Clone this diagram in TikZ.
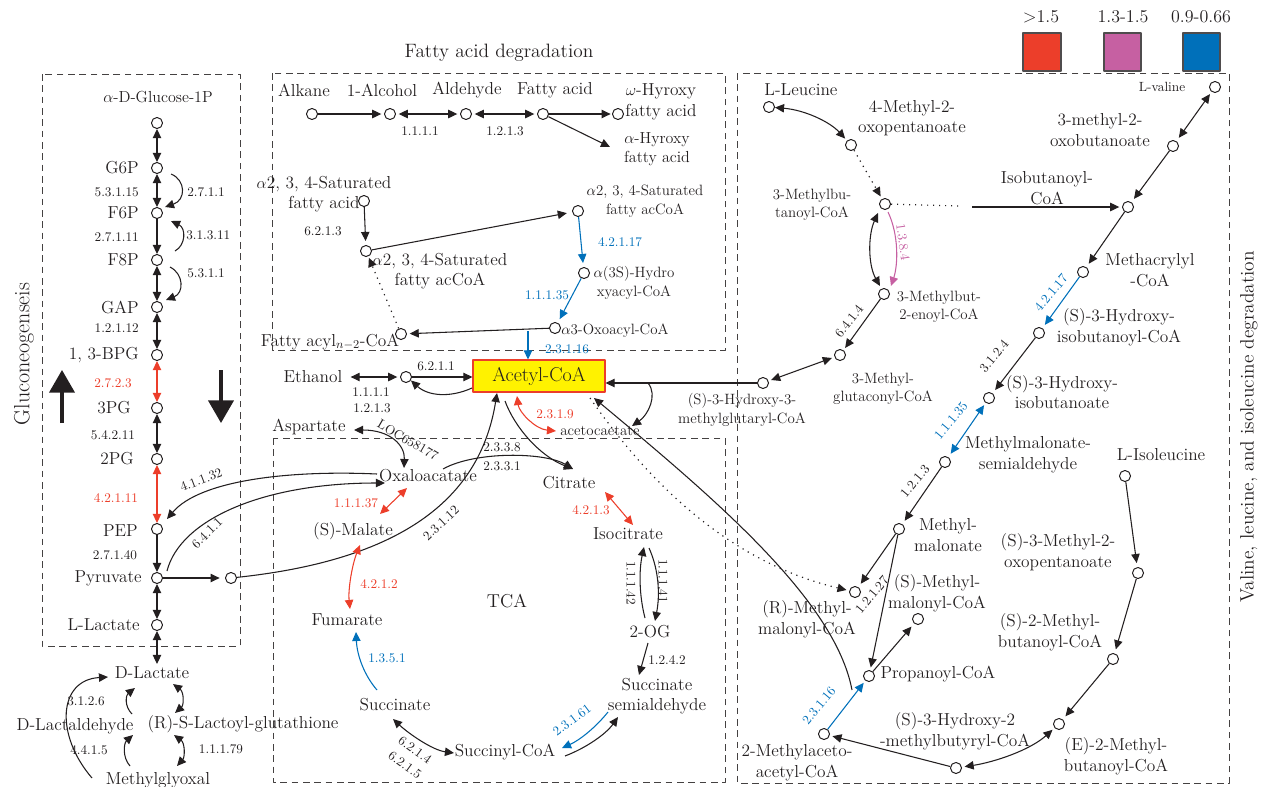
\documentclass[tikz,border=0pt]{standalone}
\usetikzlibrary{arrows.meta,calc}
\definecolor{redc}{RGB}{236,62,42}
\definecolor{pinkc}{RGB}{198,96,162}
\definecolor{bluec}{RGB}{0,112,186}
\definecolor{ink}{RGB}{35,31,32}
\definecolor{yelc}{RGB}{255,242,0}
\begin{document}
\begin{tikzpicture}[x=0.75pt,y=-0.75pt,>={Triangle[length=6.8pt,width=6.3pt]},line join=round,
 lab/.style={font=\fontsize{13}{15.5}\selectfont,inner sep=0pt,align=center,text=ink},
 slab/.style={font=\fontsize{11.2}{14}\selectfont,inner sep=0pt,align=center,text=ink},
 enz/.style={font=\fontsize{9.9}{11}\selectfont,inner sep=0pt,text=ink},
 ttl/.style={font=\fontsize{14.5}{16}\selectfont,inner sep=0pt,text=ink},
 cir/.style={circle,draw=ink,fill=white,minimum size=8.3pt,inner sep=0pt,line width=0.75pt},
 con/.style={->,line width=0.8pt,draw=ink},
 dcon/.style={<->,line width=0.8pt,draw=ink},
 dots/.style={line width=0.9pt,dash pattern=on 0.9pt off 3.6pt,draw=ink},
 dbox/.style={draw=ink!85,dash pattern=on 5pt off 3.5pt,line width=0.75pt},
 legbox/.style={draw=ink!80,line width=0.8pt}]
\useasboundingbox (0,0) rectangle (1264,786);

% ---------- frames ----------
\draw[dbox] (42,74) rectangle (240,646);
\draw[dbox] (272,73) rectangle (725,350);
\draw[dbox] (273,438) rectangle (725,782);
\draw[dbox] (737,73) rectangle (1229,783);

% ---------- titles ----------
\node[ttl,font=\fontsize{16.5}{18}\selectfont,rotate=90] (tglu) at (24,354) {Gluconeogenseis};
\node[ttl] (tfat) at (499,53) {Fatty acid degradation};
\node[ttl,rotate=90] (tval) at (1249,427) {Valine, leucine, and isoleucine degradation};
\node[ttl,font=\fontsize{14}{16}\selectfont] (ttca) at (507,601) {TCA};

% ---------- legend ----------
\node[ttl,font=\fontsize{13.5}{15}\selectfont] (lg1) at (1041,17) {>1.5};
\node[ttl,font=\fontsize{13.5}{15}\selectfont] (lg2) at (1123,17) {1.3-1.5};
\node[ttl,font=\fontsize{13.5}{15}\selectfont] (lg3) at (1201,17) {0.9-0.66};
\draw[legbox,fill=redc] (1023,33) rectangle (1061,71);
\draw[legbox,fill=pinkc] (1104,33) rectangle (1141,71);
\draw[legbox,fill=bluec] (1183,33) rectangle (1220,71);

% ---------- gluconeogenesis ----------
\node[lab,font=\fontsize{12}{14}\selectfont] (tglc) at (158,97) {$\alpha$-D-Glucose-1P};
\node[cir] (gc0) at (157,123) {};
\node[cir] (g6p) at (157,168) {};
\node[cir] (f6p) at (157,213) {};
\node[cir] (f8p) at (157,260) {};
\node[cir] (gap) at (157,307) {};
\node[cir] (bpg) at (157,355) {};
\node[cir] (pg3) at (157,408) {};
\node[cir] (pg2) at (157,459) {};
\node[cir] (pep) at (157,529) {};
\node[cir] (pyr) at (157,578) {};
\node[cir] (llac) at (157,625) {};
\node[cir] (pyrc) at (231,578) {};

\node[lab,anchor=east] (tg6p) at (139,168) {G6P};
\node[lab,anchor=east] (tf6p) at (139,213) {F6P};
\node[lab,anchor=east] (tf8p) at (139,260) {F8P};
\node[lab,anchor=east] (tgap) at (139,307) {GAP};
\node[lab,anchor=east] (tbpg) at (139,355) {1, 3-BPG};
\node[lab,anchor=east] (tpg3) at (131,408) {3PG};
\node[lab,anchor=east] (tpg2) at (134,459) {2PG};
\node[lab,anchor=east] (tpep) at (138,531) {PEP};
\node[lab,anchor=east] (tpyr) at (142,578) {Pyruvate};
\node[lab,anchor=east] (tllac) at (140,625) {L-Lactate};

\node[enz,anchor=east] (e1) at (139,192) {5.3.1.15};
\node[enz,anchor=east] (e2) at (139,237) {2.7.1.11};
\node[enz,anchor=east] (e3) at (139,328) {1.2.1.12};
\node[enz,text=redc] (e4) at (113,383) {2.7.2.3};
\node[enz] (e5) at (113,435) {5.4.2.11};
\node[enz,text=redc] (e6) at (116,498) {4.2.1.11};
\node[enz] (e7) at (115,555) {2.7.1.40};
\node[enz,anchor=west] (e8) at (187,192) {2.7.1.1};
\node[enz,anchor=west] (e9) at (186,235) {3.1.3.11};
\node[enz,anchor=west] (e10) at (187,273) {5.3.1.1};
\node[enz,rotate=21] (e11) at (201,480) {4.1.1.32};
\node[enz,rotate=45] (e12) at (207,533) {6.4.1.1};

\draw[dcon] (gc0) -- (g6p);
\draw[dcon] (g6p) -- (f6p);
\draw[con] (f6p) -- (f8p);
\draw[dcon] (f8p) -- (gap);
\draw[dcon] (gap) -- (bpg);
\draw[dcon,redc] (bpg) -- (pg3);
\draw[dcon] (pg3) -- (pg2);
\draw[dcon,redc] (pg2) -- (pep);
\draw[con] (pep) -- (pyr);
\draw[dcon] (pyr) -- (llac);

\coordinate (s1a) at (171,174); \coordinate (s1b) at (165,207);
\draw[con] (s1a) .. controls (186,180) and (186,200) .. (s1b);
\coordinate (s2a) at (175,251); \coordinate (s2b) at (171,221);
\draw[con] (s2a) .. controls (186,245) and (186,228) .. (s2b);
\coordinate (s3a) at (170,267); \coordinate (s3b) at (166,300);
\draw[con] (s3a) .. controls (184,274) and (184,293) .. (s3b);

\coordinate (bu1) at (62,423); \coordinate (bu2) at (62,370);
\draw[line width=2.3pt,draw=ink,-{Triangle[length=17pt,width=19pt]}] (bu1) -- (bu2);
\coordinate (bd1) at (221,370); \coordinate (bd2) at (221,423);
\draw[line width=2.3pt,draw=ink,-{Triangle[length=17pt,width=19pt]}] (bd1) -- (bd2);

\draw[con,shorten >=4pt] (pyr) -- (pyrc);

% ---------- lactate part ----------
\node[lab] (dlac) at (152,673) {D-Lactate};
\node[lab] (dlald) at (75,726) {D-Lactaldehyde};
\node[lab] (lgsh) at (243,724) {(R)-S-Lactoyl-glutathione};
\node[lab] (mgo) at (158,780) {Methylglyoxal};
\node[enz] (e13) at (86,701) {3.1.2.6};
\node[enz] (e14) at (89,750) {4.4.1.5};
\node[enz] (e15) at (221,749) {1.1.1.79};
\coordinate (dl1) at (157,664);
\draw[dcon] (llac) -- (dl1);
\coordinate (m1) at (92,778); \coordinate (m2) at (108,677);
\draw[con] (m1) .. controls (55,735) and (58,680) .. (m2);
\coordinate (m3) at (132,714); \coordinate (m4) at (135,688);
\draw[con] (m3) .. controls (124,706) and (126,695) .. (m4);
\coordinate (m5) at (130,766); \coordinate (m6) at (133,735);
\draw[con] (m5) .. controls (122,757) and (124,743) .. (m6);
\coordinate (m7) at (173,684); \coordinate (m8) at (175,713);
\draw[dcon] (m7) .. controls (184,692) and (184,705) .. (m8);
\coordinate (m9) at (174,735); \coordinate (m10) at (177,766);
\draw[dcon] (m9) .. controls (185,743) and (185,757) .. (m10);

% ---------- fatty acid degradation ----------
\node[lab] (talk) at (304,90) {Alkane};
\node[lab] (talc) at (382,90) {1-Alcohol};
\node[lab] (tald) at (467,90) {Aldehyde};
\node[lab] (tfa) at (555,90) {Fatty acid};
\node[lab] (twh) at (661,102) {$\omega$-Hyroxy\\fatty acid};
\node[slab,font=\fontsize{12}{14.5}\selectfont] (tah) at (657,149) {$\alpha$-Hyroxy\\fatty acid};
\node[cir] (alk) at (312,114) {};
\node[cir] (alc) at (390,114) {};
\node[cir] (ald) at (466,114) {};
\node[cir] (fa) at (543,114) {};
\node[cir] (wh) at (618,114) {};
\node[enz] (e16) at (420,131) {1.1.1.1};
\node[enz] (e17) at (505,131) {1.2.1.3};
\draw[con,shorten >=2pt] (alk) -- (alc);
\draw[dcon,shorten >=2pt,shorten <=2pt] (alc) -- (ald);
\draw[dcon,shorten >=2pt,shorten <=2pt] (ald) -- (fa);
\draw[con,shorten >=1pt] (fa) -- (wh);
\coordinate (ahx) at (610,147);
\draw[con] (fa) -- (ahx);

\node[lab] (tsfa) at (324,194) {$\alpha$2, 3, 4-Saturated\\fatty acid};
\node[cir] (sfa) at (364,201) {};
\node[cir] (sfac) at (366,251) {};
\node[cir] (sfac2) at (578,211) {};
\node[cir] (hyd) at (584,273) {};
\node[cir] (oxo) at (555,328) {};
\node[cir] (facyl) at (401,334) {};
\node[lab] (tsfac) at (440,271) {$\alpha$2, 3, 4-Saturated\\fatty acCoA};
\node[slab] (tsfac2) at (645,201) {$\alpha$2, 3, 4-Saturated\\fatty acCoA};
\node[slab] (thyd) at (634,283) {$\alpha$(3S)-Hydro\\xyacyl-CoA};
\node[slab,anchor=west] (toxo) at (561,331) {$\alpha$3-Oxoacyl-CoA};
\node[lab] (tfacyl) at (330,342) {Fatty acyl$_{n-2}$-CoA};
\node[enz] (e18) at (323,231) {6.2.1.3};
\node[enz,text=bluec] (e19) at (620,242) {4.2.1.17};
\node[enz,text=bluec] (e20) at (547,295) {1.1.1.35};
\draw[con,shorten >=3pt] (sfa) -- (sfac);
\draw[con,shorten >=4pt] (sfac) -- (sfac2);
\draw[con,bluec,shorten >=3pt] (sfac2) -- (hyd);
\draw[con,bluec,shorten >=3pt] (hyd) -- (oxo);
\draw[con,shorten >=2pt] (oxo) -- (facyl);
\draw[dots,->,shorten >=1pt] (facyl) -- (sfac);

% ---------- acetyl-CoA hub ----------
\node[draw=redc,fill=yelc,line width=0.8pt,minimum width=99pt,minimum height=24pt,inner sep=0pt,
      font=\fontsize{15}{16}\selectfont,text=ink] (acoa) at (539,376) {Acetyl-CoA};
\coordinate (b16) at (528,331);
\draw[con,bluec] (b16) -- (b16 |- acoa.north);
\node[enz,text=bluec] (e21) at (567,349) {2.3.1.16};

\node[lab] (teth) at (313,377) {Ethanol};
\node[cir] (ethc) at (406,377) {};
\draw[dcon,shorten <=6pt,shorten >=2pt] (teth) -- (ethc);
\draw[con] (ethc) -- (ethc -| acoa.west);
\coordinate (ab1) at (472,388);
\draw[con] (ab1) .. controls (450,398) and (428,396) .. (ethc.-35);
\node[enz] (e22) at (436,366) {6.2.1.1};
\node[enz] (e23) at (371,392) {1.1.1.1};
\node[enz] (e24) at (372,408) {1.2.1.3};

\node[lab] (tasp) at (309,427) {Aspartate};
\node[enz,rotate=-30] (e25) at (408,440) {LOC658177};
\coordinate (as1) at (354,430); \coordinate (as2) at (404,468);
\draw[dcon] (as1) .. controls (390,430) and (405,445) .. (as2);

\node[lab] (toaa) at (428,476) {Oxaloacatate};
\node[lab] (tcit) at (569,483) {Citrate};
\node[lab] (tmal) at (353,531) {(S)-Malate};
\node[lab] (ticit) at (628,534) {Isocitrate};
\node[lab] (tfum) at (347,620) {Fumarate};
\node[lab] (tsuc) at (395,705) {Succinate};
\node[lab] (tscoa) at (505,752) {Succinyl-CoA};
\node[lab] (tssa) at (657,696) {Succinate\\semialdehyde};
\node[lab] (tog) at (650,632) {2-OG};
\node[slab] (tacac) at (600,431) {acetocaetate};

\node[enz] (e26) at (502,447) {2.3.3.8};
\node[enz] (e27) at (502,466) {2.3.3.1};
\node[enz,text=redc] (e28) at (555,414) {2.3.1.9};
\node[enz,text=redc] (e29) at (356,503) {1.1.1.37};
\node[enz,text=redc] (e30) at (591,510) {4.2.1.3};
\node[enz,text=redc] (e31) at (379,584) {4.2.1.2};
\node[enz,text=bluec] (e32) at (387,658) {1.3.5.1};
\node[enz] (e33) at (667,660) {1.2.4.2};
\node[enz,rotate=-90] (e34) at (631,583) {1.1.1.42};
\node[enz,rotate=-90] (e35) at (663,581) {1.1.1.41};
\node[enz,rotate=-36] (e36) at (415,750) {6.2.1.4};
\node[enz,rotate=-36] (e37) at (405,765) {6.2.1.5};
\node[enz,rotate=37,text=bluec] (e38) at (572,720) {2.3.1.61};
\node[enz,rotate=43] (e39) at (441,523) {2.3.1.12};

% pyruvate / oxaloacetate links
\coordinate (o1) at (377,474); \coordinate (o2) at (167,519);
\draw[con] (o1) .. controls (290,470) and (200,480) .. (o2);
\coordinate (o3) at (167,571); \coordinate (o4) at (385,483);
\draw[con] (o3) .. controls (180,520) and (262,483) .. (o4);
\coordinate (ac1) at (497,393);
\draw[con] (pyrc) .. controls (400,560) and (480,500) .. (ac1);

% acetyl-coa / citrate
\coordinate (c0) at (573,469);
\coordinate (ox1) at (443,469);
\draw[con] (ox1) .. controls (475,451) and (545,452) .. (c0);
\coordinate (ac2) at (505,401);
\draw[con] (ac2) .. controls (515,428) and (540,456) .. (c0);
\coordinate (r9a) at (517,396); \coordinate (r9b) at (556,431);
\draw[dcon,redc] (r9a) .. controls (519,412) and (535,429) .. (r9b);

% TCA cycle
\coordinate (t1) at (380,514); \coordinate (t2) at (407,488);
\draw[dcon,redc] (t1) -- (t2);
\coordinate (t3) at (605,492); \coordinate (t4) at (633,525);
\draw[dcon,redc] (t3) -- (t4);
\coordinate (t5) at (360,545); \coordinate (t6) at (350,609);
\draw[dcon,redc] (t5) .. controls (352,565) and (348,590) .. (t6);
\coordinate (t7) at (377,690); \coordinate (t8) at (356,632);
\draw[con,bluec] (t7) .. controls (364,675) and (357,655) .. (t8);
\coordinate (t9) at (393,719); \coordinate (t10) at (454,753);
\draw[dcon] (t9) .. controls (408,733) and (432,750) .. (t10);
\coordinate (t11) at (608,712); \coordinate (t12) at (562,748);
\draw[con,bluec] (t11) .. controls (596,727) and (580,740) .. (t12);
\coordinate (t13) at (565,756); \coordinate (t14) at (618,717);
\draw[con] (t13) .. controls (586,748) and (606,734) .. (t14);
\coordinate (t15) at (648,643); \coordinate (t16) at (639,675);
\draw[con] (t15) -- (t16);
\coordinate (t17) at (645,618); \coordinate (t18) at (644,547);
\draw[con] (t17) .. controls (639,595) and (639,570) .. (t18);
\coordinate (t19) at (649,548); \coordinate (t20) at (655,621);
\draw[con] (t19) .. controls (659,570) and (660,595) .. (t20);

% ---------- right region ----------
\node[cir] (leu) at (769,107) {};
\node[cir] (mop) at (851,145) {};
\node[cir] (mbc) at (885,204) {};
\node[cir] (mbe) at (884,294) {};
\node[cir] (mgc) at (840,355) {};
\node[cir] (hmg) at (763,383) {};
\node[cir] (val) at (1215,87) {};
\node[cir] (mob) at (1173,146) {};
\node[cir] (ibc) at (1128,207) {};
\node[cir] (mac) at (1083,272) {};
\node[cir] (hic) at (1039,333) {};
\node[cir] (hib) at (989,398) {};
\node[cir] (mms) at (945,462) {};
\node[cir] (mm) at (899,529) {};
\node[cir] (rmm) at (855,592) {};
\node[cir] (smm) at (918,619) {};
\node[cir] (prop) at (869,676) {};
\node[cir] (maa) at (824,734) {};
\node[cir] (hmb) at (956,768) {};
\node[cir] (emb) at (1059,724) {};
\node[cir] (smb) at (1113,659) {};
\node[cir] (mop2) at (1138,573) {};
\node[cir] (ile) at (1125,476) {};

\node[lab] (tleu) at (801,90) {L-Leucine};
\node[lab] (tmop) at (912,118) {4-Methyl-2-\\oxopentanoate};
\node[slab] (tmbc) at (812,205) {3-Methylbu-\\tanoyl-CoA};
\node[lab] (tibc) at (1047,188) {Isobutanoyl-\\CoA};
\node[slab] (tmbe) at (939,307) {3-Methylbut-\\2-enoyl-CoA};
\node[slab] (tmgc) at (883,389) {3-Methyl-\\glutaconyl-CoA};
\node[slab] (thmg) at (742,410) {(S)-3-Hydroxy-3-\\methylglutaryl-CoA};
\node[slab,font=\fontsize{10}{11}\selectfont] (tval2) at (1162,87) {L-valine};
\node[lab] (tmob) at (1100,130) {3-methyl-2-\\oxobutanoate};
\node[lab] (tmac) at (1150,270) {Methacrylyl\\-CoA};
\node[lab] (thic) at (1119,327) {(S)-3-Hydroxy-\\isobutanoyl-CoA};
\node[lab] (thib) at (1062,392) {(S)-3-Hydroxy-\\isobutanoate};
\node[lab] (tmms) at (1028,455) {Methylmalonate-\\semialdehyde};
\node[lab] (tile) at (1161,455) {L-Isoleucine};
\node[lab] (tmm) at (948,535) {Methyl-\\malonate};
\node[lab] (tmop2) at (1058,552) {(S)-3-Methyl-2-\\oxopentanoate};
\node[lab] (trmm) at (807,619) {(R)-Methyl-\\malonyl-CoA};
\node[lab] (tsmm) at (937,593) {(S)-Methyl-\\malonyl-CoA};
\node[lab] (tsmb) at (1050,632) {(S)-2-Methyl-\\butanoyl-CoA};
\node[lab] (tprop) at (938,674) {Propanoyl-CoA};
\node[lab] (thmb) at (955,731) {(S)-3-Hydroxy-2\\-methylbutyryl-CoA};
\node[lab] (temb) at (1116,756) {(E)-2-Methyl-\\butanoyl-CoA};
\node[lab] (tmaa) at (797,763) {2-Methylaceto-\\acetyl-CoA};

\node[enz,rotate=-82,text=pinkc] (e40) at (903,242) {1.3.8.4};
\node[enz,rotate=52] (e41) at (849,321) {6.4.1.4};
\node[enz,rotate=50,text=bluec] (e42) at (1051,293) {4.2.1.17};
\node[enz,rotate=50] (e43) at (994,356) {3.1.2.4};
\node[enz,rotate=50,text=bluec] (e44) at (951,421) {1.1.1.35};
\node[enz,rotate=50] (e45) at (915,481) {1.2.1.3};
\node[enz,rotate=50] (e46) at (872,595) {1.2.1.27};
\node[enz,rotate=50,text=bluec] (e47) at (819,706) {2.3.1.16};

% leucine branch
\draw[dcon,shorten >=2pt] (leu) .. controls (805,110) and (830,122) .. (mop);
\draw[dots,->,shorten >=2pt] (mop) -- (mbc);
\coordinate (mbd) at (960,206); \coordinate (mbs) at (972,207);
\draw[dots] (mbc) -- (mbd);
\draw[con,shorten >=2pt] (mbs) -- (ibc);
\coordinate (k1) at (878,213); \coordinate (k2) at (880,286);
\draw[dcon] (k1) .. controls (868,235) and (868,265) .. (k2);
\coordinate (k3) at (888,212); \coordinate (k4) at (891,286);
\draw[con,pinkc] (k3) .. controls (899,235) and (898,265) .. (k4);
\draw[con,shorten >=2pt] (mbe) -- (mgc);
\draw[dcon,shorten >=2pt,shorten <=2pt] (mgc) -- (hmg);
\draw[con] (hmg) -- (hmg -| acoa.east);
\coordinate (br1) at (648,383); \coordinate (br2) at (632,426);
\draw[con] (br1) .. controls (658,395) and (648,415) .. (br2);

% valine branch
\draw[dcon,shorten >=3pt,shorten <=2pt] (val) -- (mob);
\draw[con,shorten >=3pt] (mob) -- (ibc);
\draw[con,shorten >=3pt] (ibc) -- (mac);
\draw[con,bluec,shorten >=3pt] (mac) -- (hic);
\draw[con,shorten >=3pt] (hic) -- (hib);
\draw[dcon,bluec,shorten >=3pt,shorten <=2pt] (hib) -- (mms);
\draw[con,shorten >=3pt] (mms) -- (mm);
\draw[con,shorten >=3pt] (mm) -- (rmm);
\draw[con,shorten >=2pt] (mm) -- (prop);
\draw[con,shorten >=3pt] (prop) -- (smm);
\draw[con,bluec,shorten >=2pt] (maa) -- (prop);

% isoleucine branch
\draw[con,shorten >=3pt] (ile) -- (mop2);
\draw[con,shorten >=3pt] (mop2) -- (smb);
\draw[con,shorten >=3pt] (smb) -- (emb);
\draw[dcon,shorten >=2pt,shorten <=2pt] (hmb) .. controls (995,762) and (1030,750) .. (emb);
\draw[con,shorten >=2pt] (hmb) -- (maa);

% long links to acetyl-CoA
\coordinate (lk1) at (852,690);
\coordinate (lk2) at (594,398);
\draw[con] (lk1) .. controls (835,600) and (714,498) .. (lk2);
\coordinate (dt1) at (590,398);
\draw[dots,->,shorten >=2pt] (dt1) .. controls (640,470) and (720,560) .. (rmm);
\end{tikzpicture}
\end{document}
